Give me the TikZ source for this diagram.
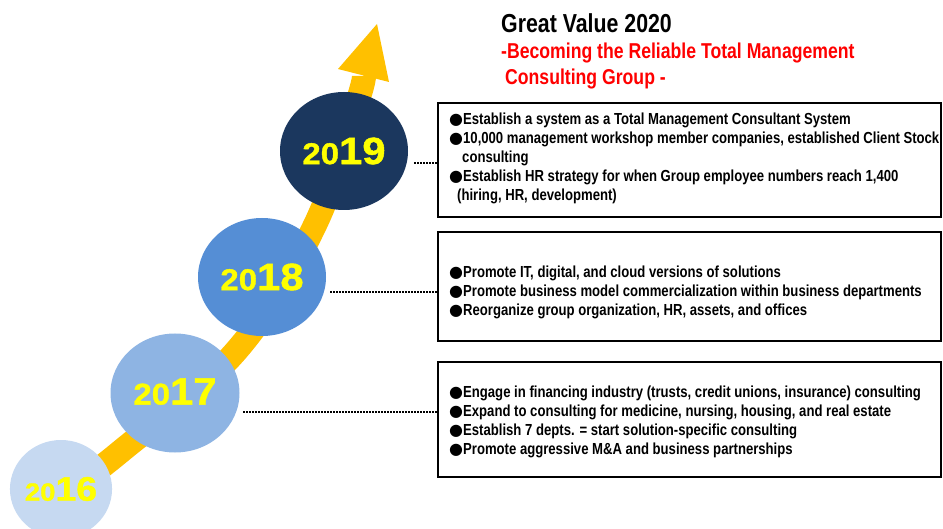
\documentclass[tikz,border=0pt]{standalone}
\usepackage{fontspec}
\setmainfont{Liberation Sans}
\newfontfamily\narrowfont{Liberation Sans}[FakeStretch=0.82]
\newfontfamily\yearfont{Liberation Sans}[FakeStretch=1.1, FakeBold=1.2]
\newfontfamily\symfont{DejaVu Sans}
\usetikzlibrary{shapes.geometric}
\definecolor{arrowgold}{HTML}{FFC000}
\definecolor{navy19}{HTML}{1B375E}
\definecolor{blue18}{HTML}{558ED5}
\definecolor{blue17}{HTML}{8EB4E3}
\definecolor{blue16}{HTML}{C6D9F1}
\definecolor{yearyellow}{HTML}{FFFF00}
\definecolor{titlered}{HTML}{FF0000}
\newcommand{\bul}{{\symfont\fontsize{16}{16}\selectfont ●}}
\begin{document}
\begin{tikzpicture}[x=1pt,y=-1pt,
  yearball/.style={ellipse, inner sep=0pt, text=yearyellow,
    font=\yearfont\bfseries},
  panel/.style={draw=black, line width=1.3pt, inner sep=0pt, fill=white},
  paneltext/.style={anchor=west, inner sep=0pt, align=left,
    font=\narrowfont\bfseries\fontsize{16}{19}\selectfont},
  leader/.style={line width=1.5pt, dash pattern=on 1.5pt off 1.5pt}]
\useasboundingbox (0,0) rectangle (943,529);

% growth arrow: shaft and head
\draw[arrowgold, line width=24pt] plot[smooth, tension=0.6] coordinates
  {(50,505) (120,452) (237,350) (315,225) (358,100) (363.5,75.5)};
\fill[arrowgold] (377,24) -- (389,82) -- (338,69) -- cycle;

% year circles
\node[yearball, fill=blue16, minimum width=102, minimum height=98] (y16) at (61,489)
  {{\fontsize{25}{25}\selectfont 20}{\fontsize{34}{34}\selectfont 16}};
\node[yearball, fill=blue17, minimum width=129, minimum height=119] (y17) at (175,393)
  {\raisebox{3pt}{{\fontsize{30}{30}\selectfont 20}{\fontsize{38}{38}\selectfont 17}}};
\node[yearball, fill=blue18, minimum width=128, minimum height=118] (y18) at (262,277)
  {{\fontsize{30}{30}\selectfont 20}{\fontsize{38}{38}\selectfont 18}};
\node[yearball, fill=navy19, minimum width=128, minimum height=118] (y19) at (344,151)
  {{\fontsize{30}{30}\selectfont 20}{\fontsize{38}{38}\selectfont 19}};

% title
\node[anchor=west, inner sep=0pt, font=\narrowfont\bfseries\fontsize{26}{26}\selectfont]
  (title) at (501,23) {Great Value 2020};
\node[anchor=north west, inner sep=0pt, align=left, text=titlered,
  font=\narrowfont\bfseries\fontsize{21.5}{26}\selectfont]
  (subtitle) at (501,43) {-Becoming the Reliable Total Management\\\hspace{4pt}Consulting Group -};

% panels
\node[panel, minimum width=503, minimum height=114] (b19) at (689.5,160) {};
\node[panel, minimum width=503, minimum height=109] (b18) at (689.5,286.5) {};
\node[panel, minimum width=503, minimum height=115] (b17) at (689.5,419.5) {};

\node[paneltext] (t19) at (449,158) {\bul Establish a system as a Total Management Consultant System\\
\bul 10,000 management workshop member companies, established Client Stock\\
\hspace{13pt}consulting\\
\bul Establish HR strategy for when Group employee numbers reach 1,400\\
\hspace{8pt}(hiring, HR, development)};
\node[paneltext] (t18) at (449,292) {\bul Promote IT, digital, and cloud versions of solutions\\
\bul Promote business model commercialization within business departments\\
\bul Reorganize group organization, HR, assets, and offices};
\node[paneltext] (t17) at (449,422) {\bul Engage in financing industry (trusts, credit unions, insurance) consulting\\
\bul Expand to consulting for medicine, nursing, housing, and real estate\\
\bul Establish 7 depts. = start solution-specific consulting\\
\bul Promote aggressive M\&A and business partnerships};

% dotted leaders from circles to panels
\coordinate (d19) at (414,163);
\coordinate (d18) at (330,292);
\coordinate (d17) at (243,412);
\draw[leader] (d19) -- (d19 -| b19.west);
\draw[leader] (d18) -- (d18 -| b18.west);
\draw[leader] (d17) -- (d17 -| b17.west);
\end{tikzpicture}
\end{document}
